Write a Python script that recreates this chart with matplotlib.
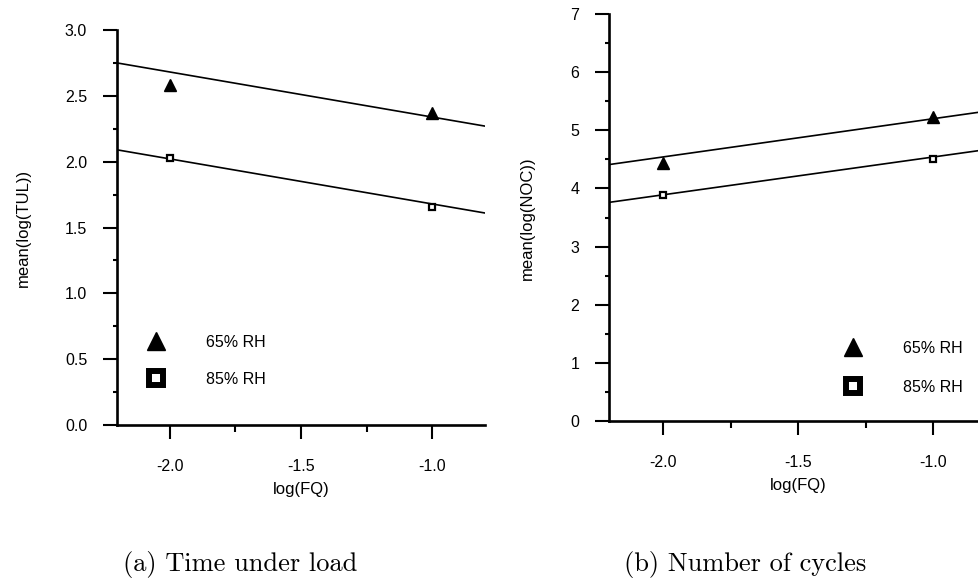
import matplotlib
matplotlib.use("Agg")
from matplotlib import pyplot as plt
from matplotlib.lines import Line2D
from matplotlib.ticker import MultipleLocator, FormatStrFormatter

# data
log_fq = [-2.0, -1.0]
tul_65 = [2.585, 2.367]
tul_85 = [2.03, 1.655]
noc_65 = [4.44, 5.22]
noc_85 = [3.885, 4.50]

# fitted lines (end points at the x limits)
fit_x = [-2.2, -0.8]
fit_tul_65 = [2.75, 2.27]
fit_tul_85 = [2.09, 1.61]
fit_noc_65 = [4.41, 5.33]
fit_noc_85 = [3.76, 4.67]

labels = ["65% RH", "85% RH"]

plt.rcParams["font.family"] = ["Liberation Sans", "DejaVu Sans"]
plt.rcParams["axes.unicode_minus"] = False

W, H = 979, 582
fig = plt.figure(figsize=(W / 100, H / 100), dpi=100)


def px(x0, y0, x1, y1):
    # pixel box -> figure fraction rect
    return [x0 / W, 1 - y1 / H, (x1 - x0) / W, (y1 - y0) / H]


def style_axes(ax, ylim, ymajor, yminor, yfmt):
    ax.set_xlim(-2.2, -0.8)
    ax.set_ylim(*ylim)
    for s in ["top", "right"]:
        ax.spines[s].set_visible(False)
    for s in ["left", "bottom"]:
        ax.spines[s].set_linewidth(1.9)
    ax.xaxis.set_major_locator(MultipleLocator(0.5))
    ax.xaxis.set_minor_locator(MultipleLocator(0.25))
    ax.xaxis.set_major_formatter(FormatStrFormatter("%.1f"))
    ax.yaxis.set_major_locator(MultipleLocator(ymajor))
    ax.yaxis.set_minor_locator(MultipleLocator(yminor))
    ax.yaxis.set_major_formatter(FormatStrFormatter(yfmt))
    ax.tick_params(axis="x", which="major", direction="out", length=10, width=1.5, pad=14.5, labelsize=11.5)
    ax.tick_params(axis="x", which="minor", direction="out", length=5, width=1.5)
    ax.tick_params(axis="y", which="major", direction="out", length=10, width=1.5, pad=11.5, labelsize=11.5)
    ax.tick_params(axis="y", which="minor", direction="out", length=3, width=1.5)
    ax.set_xlabel("log(FQ)", fontsize=12, labelpad=6)


def draw_panel(ax, y65, y85, fit65, fit85):
    ax.plot(fit_x, fit65, color="black", lw=1.2)
    ax.plot(fit_x, fit85, color="black", lw=1.2)
    ax.plot(log_fq, y65, ls="none", marker="^", ms=8, color="black", clip_on=False)
    ax.plot(log_fq, y85, ls="none", marker="s", ms=4.5, mfc="white", mec="black", mew=1.6, clip_on=False)


def add_legend(ax, anchor, spacing):
    handles = [
        Line2D([], [], ls="none", marker="^", ms=13.5, color="black"),
        Line2D([], [], ls="none", marker="s", ms=10, mfc="white", mec="black", mew=4.3),
    ]
    ax.legend(handles, labels, loc="upper left", bbox_to_anchor=anchor, bbox_transform=fig.transFigure,
              frameon=False, fontsize=11.5, handlelength=1.8, handletextpad=2.2, labelspacing=spacing,
              borderpad=0, borderaxespad=0)


# (a) time under load
ax1 = fig.add_axes(px(117, 30, 485, 425))
draw_panel(ax1, tul_65, tul_85, fit_tul_65, fit_tul_85)
style_axes(ax1, (0, 3), 0.5, 0.25, "%.1f")
add_legend(ax1, (142 / W, 1 - 335 / H), 1.35)
fig.text(23 / W, 1 - 228 / H, "mean(log(TUL))", rotation=90, ha="center", va="center", fontsize=12)

# (b) number of cycles
ax2 = fig.add_axes(px(609, 14, 987, 421))
draw_panel(ax2, noc_65, noc_85, fit_noc_65, fit_noc_85)
style_axes(ax2, (0, 7), 1, 0.5, "%d")
add_legend(ax2, (839 / W, 1 - 341 / H), 1.5)
fig.text(527 / W, 1 - 218 / H, "mean(log(NOC))", rotation=90, ha="center", va="center", fontsize=12)

# captions
fig.text(240 / W, 1 - 565 / H, "(a) Time under load", family="cmr10", fontsize=19, ha="center", va="center")
fig.text(745 / W, 1 - 565 / H, "(b) Number of cycles", family="cmr10", fontsize=19, ha="center", va="center")

fig.savefig("out.png", dpi=100)
